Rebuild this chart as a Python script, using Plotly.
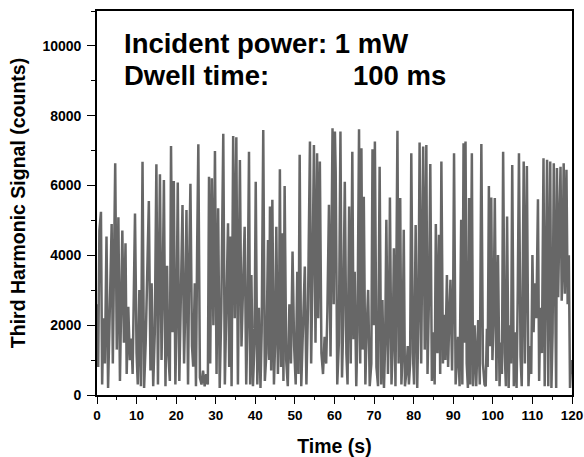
import plotly.graph_objects as go

# Time (s) and third-harmonic counts, in 10 s blocks
t_00 = [0, 0.3, 0.6, 1.0, 1.3, 1.6, 2.0, 2.4, 2.8, 3.2, 3.7, 4.0, 4.3, 4.6, 5.0, 5.4, 5.8, 6.1, 6.4, 6.8, 7.2, 7.5, 7.9, 8.3, 8.7, 9.0, 9.3, 9.6, 10.0]
c_00 = [2600, 800, 4700, 5250, 300, 2200, 900, 4540, 200, 2600, 4900, 900, 3800, 6640, 1300, 5090, 400, 3000, 4710, 1500, 4350, 600, 2530, 1000, 1620, 600, 3500, 5200, 1200]
t_10 = [10.3, 10.7, 11.1, 11.5, 11.9, 12.3, 12.7, 13.1, 13.5, 13.8, 14.2, 14.6, 15.0, 15.4, 15.9, 16.3, 16.6, 16.9, 17.3, 17.7, 18.0, 18.4, 18.7, 19.1, 19.4, 19.8]
c_10 = [300, 3010, 250, 6680, 200, 1500, 3400, 5560, 700, 3200, 250, 1800, 6610, 300, 6320, 1000, 3000, 6160, 250, 3700, 1200, 400, 7130, 1800, 6130, 300]
t_20 = [20.1, 20.4, 20.8, 21.2, 21.6, 22.0, 22.3, 22.6, 23.0, 23.3, 23.6, 24.0, 24.3, 24.7, 25.0, 25.3, 25.6, 26.0, 26.4, 26.8, 27.2, 27.6, 28.0, 28.3, 28.6, 29.0, 29.4, 29.8]
c_20 = [2200, 6085, 400, 3000, 5440, 900, 2500, 5300, 300, 3800, 6050, 1400, 810, 3200, 250, 4200, 7180, 500, 300, 700, 250, 600, 300, 6250, 900, 6210, 2000, 6990]
t_30 = [30.2, 30.6, 31.0, 31.4, 31.9, 32.3, 32.7, 33.1, 33.4, 33.7, 34.0, 34.4, 34.8, 35.2, 35.6, 36.1, 36.5, 36.9, 37.3, 37.7, 38.0, 38.4, 38.7, 39.0, 39.4, 39.8]
c_30 = [600, 5350, 200, 2400, 7480, 300, 3000, 4920, 800, 4540, 250, 7420, 2200, 7380, 300, 6730, 1390, 3500, 4820, 300, 2000, 6970, 300, 3440, 250, 1500]
t_40 = [40.1, 40.5, 40.9, 41.3, 41.6, 42.0, 42.4, 42.8, 43.2, 43.5, 43.7, 44.0, 44.3, 44.7, 45.0, 45.3, 45.7, 46.0, 46.2, 46.5, 46.8, 47.1, 47.4, 47.8, 48.2, 48.6, 49.0, 49.4, 49.8]
c_40 = [6110, 300, 2500, 200, 1800, 7590, 400, 1200, 4440, 1000, 5400, 700, 5590, 300, 1500, 4820, 600, 2200, 6470, 800, 4630, 400, 5990, 1000, 250, 2600, 900, 4110, 1400]
t_50 = [50.2, 50.6, 50.9, 51.2, 51.6, 52.0, 52.5, 52.9, 53.3, 53.8, 54.1, 54.5, 54.8, 55.2, 55.6, 55.9, 56.3, 56.7, 57.1, 57.5, 57.9, 58.2, 58.6, 59.0, 59.5, 59.8]
c_50 = [300, 3530, 600, 6880, 250, 1800, 3680, 300, 2500, 7260, 900, 4000, 7160, 1500, 6925, 2200, 6690, 1200, 600, 1670, 900, 2400, 5450, 1100, 7640, 2600]
t_60 = [60.1, 60.3, 60.7, 61.1, 61.5, 61.9, 62.2, 62.6, 63.0, 63.3, 63.7, 64.1, 64.5, 64.8, 65.1, 65.5, 65.8, 66.2, 66.5, 66.8, 67.1, 67.4, 67.8, 68.1, 68.5, 68.9, 69.3, 69.6, 69.9]
c_60 = [7550, 6400, 300, 1500, 7550, 500, 2000, 6110, 1200, 300, 5400, 900, 6970, 1600, 3530, 250, 1800, 7610, 900, 7070, 1300, 5680, 300, 1800, 3010, 250, 900, 7040, 2000]
t_70 = [70.2, 70.6, 71.0, 71.4, 71.8, 72.1, 72.5, 72.8, 73.1, 73.5, 73.8, 74.0, 74.4, 74.7, 75.0, 75.4, 75.9, 76.2, 76.6, 76.9, 77.2, 77.5, 77.8, 78.2, 78.5, 78.8, 79.1, 79.4, 79.8]
c_70 = [7260, 800, 250, 6540, 300, 2720, 200, 1500, 5020, 600, 2500, 5660, 300, 1400, 4200, 250, 7570, 900, 5640, 300, 1200, 4730, 250, 700, 1400, 300, 900, 6925, 1200]
t_80 = [80.1, 80.5, 80.9, 81.2, 81.5, 81.9, 82.1, 82.4, 82.8, 83.2, 83.5, 83.9, 84.2, 84.6, 85.0, 85.3, 85.6, 86.0, 86.4, 86.7, 87.0, 87.4, 87.7, 88.0, 88.4, 88.7, 89.0, 89.3, 89.7, 90.0]
c_80 = [300, 4870, 200, 2200, 7230, 900, 2800, 7120, 1300, 7160, 600, 3000, 6620, 400, 1800, 300, 4900, 1200, 4590, 600, 6690, 900, 2300, 1000, 3440, 800, 2200, 3300, 700, 3250]
t_90 = [90.2, 90.6, 91.0, 91.2, 91.6, 92.0, 92.3, 92.6, 92.9, 93.1, 93.4, 93.7, 94.0, 94.3, 94.7, 95.0, 95.4, 95.8, 96.3, 96.7, 97.1, 97.5, 97.9, 98.2, 98.5, 98.7, 99.0, 99.3, 99.6, 99.9]
c_90 = [6925, 300, 1200, 1670, 250, 5020, 300, 7210, 1500, 7260, 900, 200, 5640, 300, 6925, 250, 2000, 250, 2150, 300, 7190, 900, 300, 250, 1900, 800, 5990, 1400, 5660, 1000]
t_100 = [100.2, 100.5, 100.9, 101.3, 101.7, 102.0, 102.3, 102.6, 103.0, 103.3, 103.6, 104.0, 104.3, 104.6, 104.9, 105.3, 105.7, 106.0, 106.3, 106.6, 107.0, 107.3, 107.5, 107.8, 108.1, 108.3, 108.6, 109.0, 109.4, 109.7, 110.0]
c_100 = [2200, 5640, 400, 4010, 250, 1500, 600, 6970, 1200, 250, 5110, 200, 2000, 900, 6590, 250, 1800, 200, 3000, 6925, 1100, 250, 2500, 6690, 900, 4500, 6560, 250, 1400, 600, 4010]
t_110 = [110.3, 110.6, 111.0, 111.4, 111.7, 112.0, 112.4, 112.8, 113.1, 113.4, 113.7, 114.0, 114.2, 114.5, 114.8, 115.1, 115.4, 115.7, 116.0, 116.2, 116.5, 116.8, 117.1, 117.4, 117.6, 117.9, 118.2, 118.6, 118.9, 119.2, 119.5, 119.8, 120.0]
c_110 = [1800, 3200, 2200, 5610, 400, 2500, 1200, 6780, 250, 3800, 6740, 250, 2800, 6690, 200, 1800, 6640, 2900, 200, 6500, 2800, 4800, 6540, 2700, 3500, 6640, 2900, 6450, 2600, 4000, 200, 1000, 600]

t_blocks = [t_00, t_10, t_20, t_30, t_40, t_50, t_60, t_70, t_80, t_90, t_100, t_110]
c_blocks = [c_00, c_10, c_20, c_30, c_40, c_50, c_60, c_70, c_80, c_90, c_100, c_110]
time_s, counts = [], []
for tb, cb in zip(t_blocks, c_blocks):
    assert len(tb) == len(cb), (tb[0], len(tb), len(cb))
    time_s += tb
    counts += cb

x_ticks = list(range(0, 121, 10))
x_labels = [str(v) for v in x_ticks]
y_ticks = list(range(0, 10001, 2000))
y_labels = [str(v) for v in y_ticks]

FONT = "Arial, 'Liberation Sans', sans-serif"

fig = go.Figure()
fig.add_trace(go.Scatter(x=time_s, y=counts, mode="lines",
                         line=dict(color="#676767", width=2.5), showlegend=False))

axis_common = dict(showline=True, linecolor="black", linewidth=1.6, mirror=True,
                   ticks="outside", tickcolor="black", tickwidth=1.4,
                   showgrid=False, zeroline=False, automargin=False)

fig.update_xaxes(range=[0, 120], tickvals=x_ticks, ticktext=x_labels, ticklen=7,
                 tickfont=dict(family=FONT, size=13.5, color="black", weight="bold"),
                 minor=dict(dtick=5, ticks="outside", ticklen=3, tickcolor="black", tickwidth=1.2),
                 title=dict(text="Time (s)", font=dict(family=FONT, size=19.5, color="black", weight="bold"),
                            standoff=19),
                 **axis_common)
fig.update_yaxes(range=[0, 11000], tickvals=y_ticks, ticktext=y_labels, ticklen=8,
                 ticklabelstandoff=3,
                 tickfont=dict(family=FONT, size=14, color="black", weight="bold"),
                 minor=dict(dtick=1000, ticks="outside", ticklen=4, tickcolor="black", tickwidth=1.2),
                 title=dict(text="Third Harmonic Signal (counts)",
                            font=dict(family=FONT, size=19.5, color="black", weight="bold"), standoff=12),
                 **axis_common)

ann_font = dict(family=FONT, size=27.5, color="black", weight="bold")
fig.add_annotation(x=6.2, y=10080, text="Incident power: 1 mW", showarrow=False,
                   xanchor="left", yanchor="middle", font=ann_font)
fig.add_annotation(x=6.2, y=9150, text="Dwell time:", showarrow=False,
                   xanchor="left", yanchor="middle", font=ann_font)
fig.add_annotation(x=64.2, y=9150, text="100 ms", showarrow=False,
                   xanchor="left", yanchor="middle", font=ann_font)

fig.update_layout(width=584, height=457, margin=dict(l=97, r=12, t=11, b=62),
                  paper_bgcolor="white", plot_bgcolor="white")

# remove the browser's default 8 px body margin so the figure fills the window
fig.write_html("out.html", config={"displayModeBar": False},
               post_script="document.body.style.margin='0';document.body.style.overflow='hidden';")
